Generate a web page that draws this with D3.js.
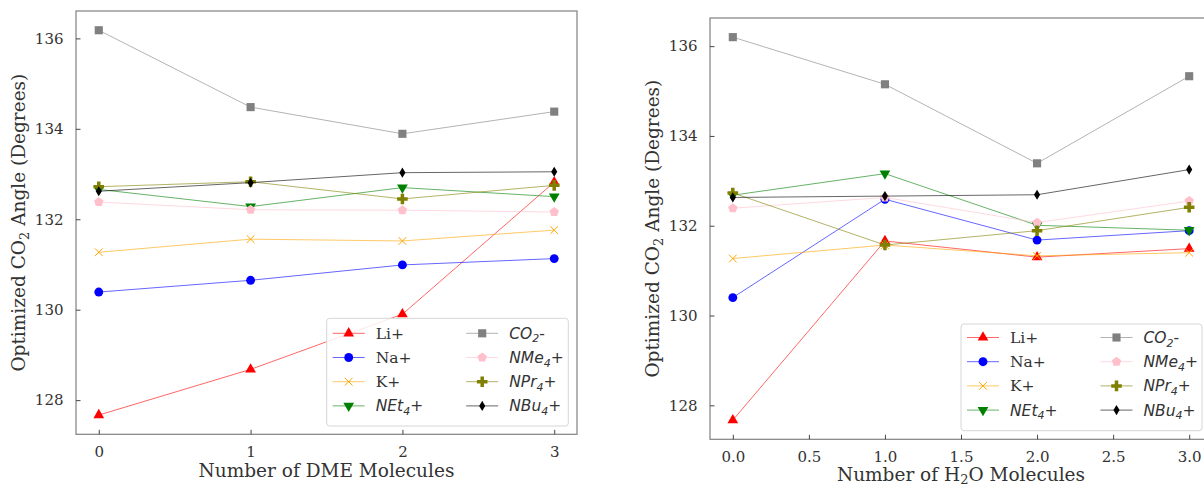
<!DOCTYPE html>
<html>
<head>
<meta charset="utf-8">
<script src="https://cdn.jsdelivr.net/npm/d3@7"></script>
<style>
  html, body { margin: 0; padding: 0; background: #fff; }
  svg { display: block; }
</style>
</head>
<body>
<svg id="chart" width="1204" height="487"></svg>
<script>
// ---------------- DATA ----------------
const seriesNames = ["Li+", "Na+", "K+", "NEt4+", "CO2-", "NMe4+", "NPr4+", "NBu4+"];
const moleculeCounts = [0, 1, 2, 3];

// DME panel
const dmeLi   = [127.67, 128.68, 129.90, 132.82];
const dmeNa   = [130.39, 130.65, 130.99, 131.13];
const dmeK    = [131.27, 131.56, 131.52, 131.76];
const dmeNEt4 = [132.66, 132.28, 132.70, 132.50];
const dmeCO2  = [136.18, 134.48, 133.89, 134.38];
const dmeNMe4 = [132.38, 132.21, 132.20, 132.16];
const dmeNPr4 = [132.72, 132.83, 132.45, 132.75];
const dmeNBu4 = [132.62, 132.81, 133.03, 133.05];

// H2O panel
const h2oLi   = [127.67, 131.66, 131.30, 131.49];
const h2oNa   = [130.40, 132.59, 131.68, 131.89];
const h2oK    = [131.27, 131.57, 131.33, 131.40];
const h2oNEt4 = [132.68, 133.16, 132.01, 131.90];
const h2oCO2  = [136.20, 135.15, 133.39, 135.33];
const h2oNMe4 = [132.39, 132.63, 132.07, 132.55];
const h2oNPr4 = [132.73, 131.57, 131.89, 132.41];
const h2oNBu4 = [132.63, 132.66, 132.69, 133.25];

const yTicks = [128, 130, 132, 134, 136];
const dmeXTicks = [0, 1, 2, 3];
const h2oXTicks = [0.0, 0.5, 1.0, 1.5, 2.0, 2.5, 3.0];

// ---------------- STYLES ----------------
const seriesColors = ["#ff0000", "#0000ff", "#ffa500", "#008000", "#808080", "#ffc0cb", "#808000", "#000000"];

const pentagon = {
  draw(ctx, size) {
    const r = Math.sqrt(size / 2.378);
    for (let k = 0; k < 5; k++) {
      const a = -Math.PI / 2 + k * 2 * Math.PI / 5;
      const px = r * Math.cos(a), py = r * Math.sin(a);
      if (k === 0) ctx.moveTo(px, py); else ctx.lineTo(px, py);
    }
    ctx.closePath();
  }
};
const triDown = {
  draw(ctx, size) {
    const s = Math.sqrt(size * 4 / Math.sqrt(3));
    const h = s * Math.sqrt(3) / 2;
    ctx.moveTo(-s / 2, -h / 3);
    ctx.lineTo(s / 2, -h / 3);
    ctx.lineTo(0, 2 * h / 3);
    ctx.closePath();
  }
};
const triUp = {
  draw(ctx, size) {
    const s = Math.sqrt(size * 4 / Math.sqrt(3));
    const h = s * Math.sqrt(3) / 2;
    ctx.moveTo(-s / 2, h / 3);
    ctx.lineTo(s / 2, h / 3);
    ctx.lineTo(0, -2 * h / 3);
    ctx.closePath();
  }
};
const thinDiamond = {
  draw(ctx, size) {
    const h = Math.sqrt(size / 0.6);
    const w = h * 0.6;
    ctx.moveTo(0, -h / 2);
    ctx.lineTo(w / 2, 0);
    ctx.lineTo(0, h / 2);
    ctx.lineTo(-w / 2, 0);
    ctx.closePath();
  }
};
const plusFilled = {
  draw(ctx, size) {
    const a = Math.sqrt(size / 5) / 2;
    const L = a * 3;
    ctx.moveTo(-a, -L); ctx.lineTo(a, -L); ctx.lineTo(a, -a); ctx.lineTo(L, -a);
    ctx.lineTo(L, a); ctx.lineTo(a, a); ctx.lineTo(a, L); ctx.lineTo(-a, L);
    ctx.lineTo(-a, a); ctx.lineTo(-L, a); ctx.lineTo(-L, -a); ctx.lineTo(-a, -a);
    ctx.closePath();
  }
};
const xMark = {
  draw(ctx, size) {
    const r = Math.sqrt(size) / 2;
    ctx.moveTo(-r, -r); ctx.lineTo(r, r);
    ctx.moveTo(-r, r); ctx.lineTo(r, -r);
  }
};

const seriesMarkers = [
  { type: triUp, size: 50, stroke: false },
  { type: d3.symbolCircle, size: 62, stroke: false },
  { type: xMark, size: 60, stroke: true },
  { type: triDown, size: 50, stroke: false },
  { type: d3.symbolSquare, size: 66, stroke: false },
  { type: pentagon, size: 58, stroke: false },
  { type: plusFilled, size: 62, stroke: false },
  { type: thinDiamond, size: 62, stroke: false }
];

// legend label pieces: [main, subscript, suffix, italic]
const legendLabels = [
  ["Li+", null, null, false],
  ["Na+", null, null, false],
  ["K+", null, null, false],
  ["NEt", "4", "+", true],
  ["CO", "2", "-", true],
  ["NMe", "4", "+", true],
  ["NPr", "4", "+", true],
  ["NBu", "4", "+", true]
];

const svg = d3.select("#chart");
const serif = "'DejaVu Serif', serif";
const sans = "'DejaVu Sans', sans-serif";
const textColor = "#333";

function paddedExtent(allSeries) {
  const vals = allSeries.flat();
  const [lo, hi] = d3.extent(vals);
  const pad = (hi - lo) * 0.05;
  return [lo - pad, hi + pad];
}

function drawPanel(cfg) {
  const g = svg.append("g");
  const x = d3.scaleLinear().domain([-0.15, 3.15]).range([cfg.left, cfg.right]);
  const y = d3.scaleLinear().domain(paddedExtent(cfg.series)).range([cfg.bottom, cfg.top]);

  // series
  cfg.series.forEach((vals, i) => {
    const sg = g.append("g");
    const pts = moleculeCounts.map((c, j) => [c, vals[j]]);
    sg.append("path")
      .attr("d", d3.line().x(d => x(d[0])).y(d => y(d[1]))(pts))
      .attr("fill", "none")
      .attr("stroke", seriesColors[i])
      .attr("stroke-opacity", 0.6)
      .attr("stroke-width", 1);
    const m = seriesMarkers[i];
    sg.selectAll("path.m").data(pts).join("path")
      .attr("class", "m")
      .attr("transform", d => `translate(${x(d[0])},${y(d[1])})`)
      .attr("d", d3.symbol().type(m.type).size(m.size))
      .attr("fill", m.stroke ? "none" : seriesColors[i])
      .attr("stroke", m.stroke ? seriesColors[i] : "none")
      .attr("stroke-width", 1);
  });

  // frame
  g.append("rect")
    .attr("x", cfg.left).attr("y", cfg.top)
    .attr("width", cfg.right - cfg.left).attr("height", cfg.bottom - cfg.top)
    .attr("fill", "none").attr("stroke", "#808080").attr("stroke-width", 1.2);

  // y axis ticks (inward)
  const yAxis = d3.axisLeft(y).tickValues(yTicks).tickSize(-4.5).tickPadding(12.5).tickFormat(d3.format("d"));
  const ya = g.append("g").attr("transform", `translate(${cfg.left},0)`).call(yAxis);
  ya.select(".domain").remove();
  ya.selectAll("line").attr("stroke", "#444");
  ya.selectAll("text").attr("font-family", serif).attr("font-size", 15).attr("fill", textColor);

  // x axis ticks (inward)
  const xAxis = d3.axisBottom(x).tickValues(cfg.xTicks).tickSize(-4.5).tickPadding(12).tickFormat(d3.format(cfg.xFormat));
  const xa = g.append("g").attr("transform", `translate(0,${cfg.bottom})`).call(xAxis);
  xa.select(".domain").remove();
  xa.selectAll("line").attr("stroke", "#444");
  xa.selectAll("text").attr("font-family", serif).attr("font-size", 15).attr("fill", textColor);

  // x label
  const xl = g.append("text")
    .attr("x", (cfg.left + cfg.right) / 2).attr("y", cfg.bottom + cfg.xLabelDy)
    .attr("text-anchor", "middle")
    .attr("font-family", serif).attr("font-size", 18.5).attr("fill", textColor);
  cfg.xLabel.forEach(p => {
    const t = xl.append("tspan").text(p[0]);
    if (p[1] === "sub") t.attr("font-size", 13).attr("dy", 3);
    if (p[1] === "back") t.attr("dy", -3);
  });

  // y label
  const yl = g.append("text")
    .attr("transform", `translate(${cfg.yLabelX},${(cfg.top + cfg.bottom) / 2}) rotate(-90)`)
    .attr("text-anchor", "middle")
    .attr("font-family", serif).attr("font-size", 18.5).attr("fill", textColor);
  yl.append("tspan").text("Optimized CO");
  yl.append("tspan").text("2").attr("font-size", 13).attr("dy", 4);
  yl.append("tspan").text(" Angle (Degrees)").attr("dy", -4);

  // legend
  const L = cfg.legend;
  const lg = g.append("g");
  lg.append("rect")
    .attr("x", L.x).attr("y", L.y).attr("width", L.w).attr("height", L.h)
    .attr("rx", 3).attr("ry", 3)
    .attr("fill", "#fff").attr("fill-opacity", 0.85)
    .attr("stroke", "#d6d6d6").attr("stroke-width", 1);
  seriesNames.forEach((name, i) => {
    const col = Math.floor(i / 4), row = i % 4;
    const ox = L.x + 6 + col * 133.5;
    const cy = L.y + L.rowTop + row * 24.2;
    lg.append("line")
      .attr("x1", ox).attr("x2", ox + 32).attr("y1", cy).attr("y2", cy)
      .attr("stroke", seriesColors[i]).attr("stroke-opacity", 0.6).attr("stroke-width", 1);
    const m = seriesMarkers[i];
    lg.append("path")
      .attr("transform", `translate(${ox + 16},${cy})`)
      .attr("d", d3.symbol().type(m.type).size(m.size))
      .attr("fill", m.stroke ? "none" : seriesColors[i])
      .attr("stroke", m.stroke ? seriesColors[i] : "none")
      .attr("stroke-width", 1);
    const lab = legendLabels[i];
    const t = lg.append("text")
      .attr("x", ox + 43).attr("y", cy + 5.5)
      .attr("font-size", 15.5).attr("fill", textColor)
      .attr("font-family", lab[3] ? sans : serif);
    if (lab[3]) {
      t.append("tspan").text(lab[0]).attr("font-style", "italic");
      t.append("tspan").text(lab[1]).attr("font-style", "italic").attr("font-size", 11).attr("dy", 3.5);
      t.append("tspan").text(lab[2]).attr("dy", -3.5);
    } else {
      t.text(lab[0]);
    }
  });
}

drawPanel({
  left: 76, right: 577, top: 11, bottom: 434.3,
  series: [dmeLi, dmeNa, dmeK, dmeNEt4, dmeCO2, dmeNMe4, dmeNPr4, dmeNBu4],
  xTicks: dmeXTicks, xFormat: "d",
  xLabel: [["Number of DME Molecules", null]],
  xLabelDy: 43,
  yLabelX: 25,
  legend: { x: 326.7, y: 318.3, w: 241.6, h: 107.7, rowTop: 15 }
});

drawPanel({
  left: 710, right: 1212, top: 18, bottom: 439.3,
  series: [h2oLi, h2oNa, h2oK, h2oNEt4, h2oCO2, h2oNMe4, h2oNPr4, h2oNBu4],
  xTicks: h2oXTicks, xFormat: ".1f",
  xLabel: [["Number of H", null], ["2", "sub"], ["O Molecules", "back"]],
  xLabelDy: 42,
  yLabelX: 659,
  legend: { x: 961, y: 324, w: 241, h: 106.7, rowTop: 13.5 }
});
</script>
</body>
</html>
